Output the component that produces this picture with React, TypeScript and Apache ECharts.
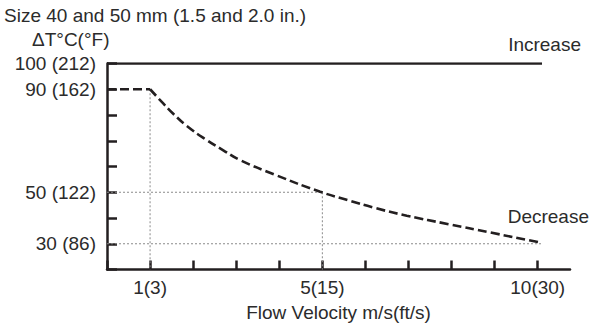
import React, { useEffect, useRef } from "react";
import * as echarts from "echarts";

const FONT = '"Liberation Sans", Arial, Helvetica, sans-serif';
const TEXT_COLOR = "#2b2b2b";
const AXIS_COLOR = "#231f20";
const FS = 19;

const titleText = "Size 40 and 50 mm (1.5 and 2.0 in.)";
const yAxisTitle = "ΔT°C(°F)";
const xAxisTitle = "Flow Velocity m/s(ft/s)";

const yTickLabels: Record<number, string> = {
  100: "100 (212)",
  90: "90 (162)",
  50: "50 (122)",
  30: "30 (86)",
};
const xTickLabels: Record<number, string> = {
  1: "1(3)",
  5: "5(15)",
  10: "10(30)",
};

// Increase: constant ΔT
const increaseX = [0, 10.1];
const increaseY = [100, 100];

// Decrease: flat part, then ΔT falling with flow velocity
const flatX = [0, 1];
const flatY = [90, 90];
const decreaseX = [1, 1.3, 1.55, 1.85, 2.3, 2.7, 3.09, 3.9, 4.95, 5.6, 6.2, 6.96, 7.93, 8.89, 10.08];
const decreaseY = [90, 84.6, 80.3, 75.8, 70.4, 66.3, 62.5, 56.8, 50.2, 46.9, 44.0, 40.9, 37.6, 34.4, 30.4];

// dotted reference lines
const refV1X = [1, 1];
const refV1Y = [90, 20];
const refV5X = [5, 5];
const refV5Y = [50, 20];
const refH50X = [0, 5];
const refH50Y = [50, 50];
const refH30X = [0, 10.08];
const refH30Y = [30, 30];

const zip = (xs: number[], ys: number[]) => xs.map((x, i) => [x, ys[i]]);

export default function App() {
  const ref = useRef<HTMLDivElement>(null);
  useEffect(() => {
    document.body.style.margin = "0";
    if (!ref.current) return;
    const chart = echarts.init(ref.current, undefined, { renderer: "svg" });
    const dotted = {
      type: "line",
      symbol: "none",
      silent: true,
      lineStyle: { color: "#8a8a8a", width: 1, type: [2, 2] },
      z: 1,
    };
    const dashed = {
      type: "line",
      symbol: "none",
      lineStyle: { color: AXIS_COLOR, width: 2.6, type: [9, 4] },
      z: 3,
    };
    chart.setOption({
      animation: false,
      backgroundColor: "#ffffff",
      grid: {
        left: 107,
        right: 28,
        top: 63.5,
        bottom: 54.5,
        containLabel: false,
        outerBoundsMode: "none",
      },
      xAxis: {
        type: "value",
        min: 0,
        max: 10.75,
        interval: 1,
        splitLine: { show: false },
        axisLine: { lineStyle: { color: AXIS_COLOR, width: 2.5 } },
        axisTick: { inside: true, length: 9, lineStyle: { color: AXIS_COLOR, width: 2.5 } },
        axisLabel: {
          showMaxLabel: false,
          margin: 8,
          fontFamily: FONT,
          fontSize: FS,
          color: TEXT_COLOR,
          formatter: (v: number) => xTickLabels[v] ?? "",
        },
        name: xAxisTitle,
        nameLocation: "middle",
        nameGap: 33,
        nameTextStyle: { fontFamily: FONT, fontSize: FS, color: TEXT_COLOR },
      },
      yAxis: {
        type: "value",
        min: 20,
        max: 100,
        interval: 10,
        splitLine: { show: false },
        axisLine: { lineStyle: { color: AXIS_COLOR, width: 2.5 } },
        axisTick: { inside: true, length: 10, lineStyle: { color: AXIS_COLOR, width: 2.5 } },
        axisLabel: {
          margin: 11,
          fontFamily: FONT,
          fontSize: FS,
          color: TEXT_COLOR,
          formatter: (v: number) => yTickLabels[v] ?? "",
        },
      },
      graphic: [
        {
          type: "text",
          left: 4,
          top: 6,
          style: { text: titleText, font: `${FS}px ${FONT}`, fill: TEXT_COLOR },
        },
        {
          type: "text",
          left: 32,
          top: 30,
          style: { text: yAxisTitle, font: `${FS}px ${FONT}`, fill: TEXT_COLOR },
        },
        {
          type: "text",
          right: 17,
          top: 34.5,
          style: { text: "Increase", font: `${FS}px ${FONT}`, fill: TEXT_COLOR },
        },
        {
          type: "text",
          right: 9,
          top: 207,
          style: { text: "Decrease", font: `${FS}px ${FONT}`, fill: TEXT_COLOR },
        },
      ],
      series: [
        { ...dotted, data: zip(refV1X, refV1Y) },
        { ...dotted, data: zip(refV5X, refV5Y) },
        { ...dotted, data: zip(refH50X, refH50Y) },
        { ...dotted, data: zip(refH30X, refH30Y) },
        {
          type: "line",
          symbol: "none",
          data: zip(increaseX, increaseY),
          lineStyle: { color: AXIS_COLOR, width: 2.5 },
          z: 3,
        },
        { ...dashed, data: zip(flatX, flatY) },
        { ...dashed, smooth: 0.5, data: zip(decreaseX, decreaseY) },
      ],
    });
    return () => chart.dispose();
  }, []);
  return <div ref={ref} style={{ width: 598, height: 324 }} />;
}
